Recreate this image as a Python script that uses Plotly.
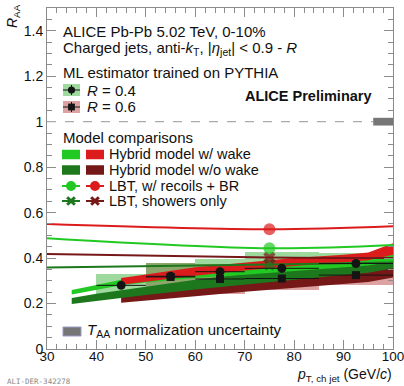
import plotly.graph_objects as go

# ---------------- data ----------------
# Measured R_AA, R = 0.4 (bins in pT, GeV/c)
r04_x = [45, 55, 65, 77.5, 92.5]
r04_hw = [5, 5, 5, 7.5, 7.5]
r04_y = [0.28, 0.32, 0.34, 0.355, 0.376]
r04_stat = [0.012, 0.012, 0.012, 0.012, 0.012]
r04_sys = [0.05, 0.06, 0.057, 0.07, 0.045]

# Measured R_AA, R = 0.6
r06_x = [55, 65, 77.5, 92.5]
r06_hw = [5, 5, 7.5, 7.5]
r06_y = [0.317, 0.308, 0.31, 0.325]
r06_stat = [0.012, 0.012, 0.012, 0.012]
r06_sys = [0.063, 0.068, 0.05, 0.045]

# Hybrid model, R = 0.4
hyb04_x = [35, 40, 45, 50, 60, 70, 80, 90, 95, 100]
hyb04_wake_lo = [0.240, 0.26, 0.28, 0.292, 0.312, 0.327, 0.342, 0.357, 0.367, 0.385]
hyb04_wake_hi = [0.26, 0.282, 0.305, 0.318, 0.338, 0.353, 0.368, 0.383, 0.393, 0.425]
hyb04_nowake_lo = [0.198, 0.212, 0.225, 0.237, 0.262, 0.285, 0.305, 0.325, 0.335, 0.355]
hyb04_nowake_hi = [0.224, 0.243, 0.26, 0.275, 0.305, 0.33, 0.35, 0.37, 0.38, 0.415]

# Hybrid model, R = 0.6
hyb06_x = [45, 50, 60, 70, 80, 90, 95, 100]
hyb06_wake_lo = [0.283, 0.297, 0.322, 0.345, 0.365, 0.38, 0.39, 0.415]
hyb06_wake_hi = [0.312, 0.328, 0.36, 0.38, 0.40, 0.415, 0.425, 0.465]
hyb06_nowake_lo = [0.203, 0.212, 0.232, 0.252, 0.27, 0.285, 0.295, 0.315]
hyb06_nowake_hi = [0.247, 0.26, 0.29, 0.312, 0.332, 0.35, 0.36, 0.395]

# LBT curves
lbt_x = [30, 75, 100]
lbt04_recoil = [0.487, 0.443, 0.457]
lbt06_recoil = [0.55, 0.527, 0.54]
lbt04_shower = [0.358, 0.372, 0.38]
lbt06_shower = [0.418, 0.402, 0.40]
lbt_marker_x = 75

# T_AA normalisation uncertainty at unity
taa_unc = 0.017

x_ticks = [30, 40, 50, 60, 70, 80, 90, 100]
y_ticks = [0, 0.2, 0.4, 0.6, 0.8, 1.0, 1.2, 1.4]

# ---------------- styles ----------------
GREEN = "#22c922"
DGREEN = "#1d781d"
RED = "#dc1c1c"
DRED = "#761818"
GREEN_BOX = "rgba(40,170,40,0.45)"
RED_BOX = "rgba(175,35,35,0.42)"
FONT = "Liberation Sans, Arial, Helvetica, sans-serif"

fig = go.Figure()

# systematic boxes (red first, green on top)
fig.add_trace(go.Bar(x=r06_x, y=[2 * s for s in r06_sys],
                     base=[v - s for v, s in zip(r06_y, r06_sys)],
                     width=[2 * w for w in r06_hw],
                     marker=dict(color=RED_BOX, line=dict(width=0))))
fig.add_trace(go.Bar(x=r04_x, y=[2 * s for s in r04_sys],
                     base=[v - s for v, s in zip(r04_y, r04_sys)],
                     width=[2 * w for w in r04_hw],
                     marker=dict(color=GREEN_BOX, line=dict(width=0))))


def band(x, lo, hi, color):
    fig.add_trace(go.Scatter(x=x + x[::-1], y=lo + hi[::-1], mode="lines",
                             fill="toself", fillcolor=color,
                             line=dict(width=0), hoverinfo="skip"))


band(hyb06_x, hyb06_nowake_lo, hyb06_nowake_hi, DRED)
band(hyb04_x, hyb04_nowake_lo, hyb04_nowake_hi, DGREEN)
band(hyb04_x, hyb04_wake_lo, hyb04_wake_hi, GREEN)
band(hyb06_x, hyb06_wake_lo, hyb06_wake_hi, RED)


def lbt(y, color, symbol, size):
    sizes = [size if xv == lbt_marker_x else 0 for xv in lbt_x]
    fig.add_trace(go.Scatter(x=lbt_x, y=y, mode="lines+markers",
                             line=dict(color=color, width=2, shape="spline"),
                             marker=dict(color=color, symbol=symbol, size=sizes,
                                         line=dict(width=0))))


lbt(lbt04_shower, DGREEN, "x", 11)
lbt(lbt06_shower, DRED, "x", 11)
lbt(lbt04_recoil, GREEN, "circle", 12)
lbt(lbt06_recoil, RED, "circle", 12)

# data points
fig.add_trace(go.Scatter(x=r04_x, y=r04_y, mode="markers",
                         marker=dict(symbol="circle", size=9, color="#141414"),
                         error_x=dict(type="data", array=r04_hw, width=0, thickness=1, color="#141414"),
                         error_y=dict(type="data", array=r04_stat, width=0, thickness=1, color="#141414")))
fig.add_trace(go.Scatter(x=r06_x, y=r06_y, mode="markers",
                         marker=dict(symbol="square", size=8, color="#141414"),
                         error_x=dict(type="data", array=r06_hw, width=0, thickness=1, color="#141414"),
                         error_y=dict(type="data", array=r06_stat, width=0, thickness=1, color="#141414")))

# unity line and normalisation box
shapes = [
    dict(type="line", xref="x", yref="y", x0=30, x1=96, y0=1, y1=1,
         line=dict(color="#aaaaaa", width=1.2, dash="dash")),
    dict(type="rect", xref="x", yref="y", x0=96, x1=100, y0=1 - taa_unc, y1=1 + taa_unc,
         fillcolor="#767676", line=dict(width=0)),
]

# ---------------- legend / labels (pixel-placed) ----------------
L, R, T, B = 47, 393, 8, 349


def PX(p):
    return (p - L) / (R - L)


def PY(p):
    return (B - p) / (B - T)


def rect(x0, x1, yc, h, color):
    shapes.append(dict(type="rect", xref="paper", yref="paper",
                       x0=PX(x0), x1=PX(x1), y0=PY(yc + h / 2), y1=PY(yc - h / 2),
                       fillcolor=color, line=dict(width=0)))


def seg(x0, y0, x1, y1, color, w):
    shapes.append(dict(type="line", xref="paper", yref="paper",
                       x0=PX(x0), x1=PX(x1), y0=PY(y0), y1=PY(y1),
                       line=dict(color=color, width=w)))


def dot(xc, yc, r, color, kind="circle"):
    shapes.append(dict(type=kind, xref="paper", yref="paper",
                       x0=PX(xc - r), x1=PX(xc + r), y0=PY(yc + r), y1=PY(yc - r),
                       fillcolor=color, line=dict(width=0)))


def cross(xc, yc, r, color):
    seg(xc - r, yc - r, xc + r, yc + r, color, 3)
    seg(xc - r, yc + r, xc + r, yc - r, color, 3)


# measurement legend
rect(63, 80, 90, 12, GREEN_BOX)
seg(63, 90, 80, 90, "#141414", 1)
seg(71.5, 85, 71.5, 95, "#141414", 1)
dot(71.5, 90, 3.6, "#141414")
rect(63, 80, 107, 12, RED_BOX)
seg(63, 107, 80, 107, "#141414", 1)
seg(71.5, 102, 71.5, 112, "#141414", 1)
dot(71.5, 107, 3.4, "#141414", "rect")

# model legend
rect(62, 80, 154.5, 9.5, GREEN)
rect(86, 104, 154.5, 9.5, RED)
rect(62, 80, 170, 9.5, DGREEN)
rect(86, 104, 170, 9.5, DRED)
seg(62, 186, 80, 186, GREEN, 2)
dot(71, 186, 5, GREEN)
seg(86, 186, 104, 186, RED, 2)
dot(95, 186, 5, RED)
seg(62, 201, 80, 201, DGREEN, 2)
cross(71, 201, 3.8, DGREEN)
seg(86, 201, 104, 201, DRED, 2)
cross(95, 201, 3.8, DRED)

# T_AA legend box
shapes.append(dict(type="rect", xref="paper", yref="paper",
                   x0=PX(63), x1=PX(81), y0=PY(336), y1=PY(327),
                   fillcolor="#767676", line=dict(color="#9a9ac8", width=1)))

annotations = []


def text(s, x, y, size=15, anchor="left", color="#111111", **kw):
    annotations.append(dict(text=s, x=PX(x), y=PY(y), xref="paper", yref="paper",
                            xanchor=anchor, yanchor="middle", showarrow=False,
                            font=dict(family=FONT, size=size, color=color), **kw))


text("ALICE Pb-Pb 5.02 TeV, 0-10%", 61, 31)
text("Charged jets, anti-<i>k</i><sub>T</sub>, |<i>η</i><sub>jet</sub>| &lt; 0.9 - <i>R</i>", 61, 48)
text("ML estimator trained on PYTHIA", 61, 72)
text("<i>R</i> = 0.4", 85, 90)
text("<i>R</i> = 0.6", 85, 107)
text("<b>ALICE Preliminary</b>", 374, 96, size=14.5, anchor="right")
text("Model comparisons", 61, 137)
text("Hybrid model w/ wake", 107, 154.5, size=14.5)
text("Hybrid model w/o wake", 107, 170, size=14.5)
text("LBT, w/ recoils + BR", 107, 185.5, size=14.5)
text("LBT, showers only", 107, 201, size=14.5)
text("<i>T</i><sub>AA</sub> normalization uncertainty", 85, 330)
text("<i>p</i><sub>T, ch jet</sub> (GeV/<i>c</i>)", 394, 375, size=14, anchor="right")
text("<i>R</i><sub>AA</sub>", 13, 16, size=14, anchor="center", textangle=-90)
text("ALI-DER-342278", 5, 381, size=7.5, color="#8a8a8a")
annotations[-1]["font"]["family"] = "DejaVu Sans Mono"

axis_common = dict(showgrid=False, zeroline=False, showline=True, mirror="ticks",
                   linecolor="#8c8c8c", linewidth=1, ticks="inside", ticklen=9,
                   tickcolor="#8c8c8c", tickwidth=1, automargin=False,
                   tickfont=dict(family=FONT, size=14, color="#111111"))

fig.update_layout(
    width=404, height=386,
    margin=dict(l=L, r=404 - R, t=T, b=386 - B, autoexpand=False),
    paper_bgcolor="white", plot_bgcolor="white",
    showlegend=False, barmode="overlay", bargap=0,
    xaxis=dict(range=[30, 100], tickvals=x_ticks, ticklabelstandoff=-5,
               ticklabeloverflow="allow",
               minor=dict(dtick=2, ticks="inside", ticklen=5, tickcolor="#8c8c8c"),
               **axis_common),
    yaxis=dict(range=[0, 1.5], tickvals=y_ticks,
               minor=dict(dtick=0.05, ticks="inside", ticklen=5, tickcolor="#8c8c8c"),
               **axis_common),
    shapes=shapes,
    annotations=annotations,
)
fig.update_xaxes(tickfont_size=13.5)

fig.write_html("out.html")
